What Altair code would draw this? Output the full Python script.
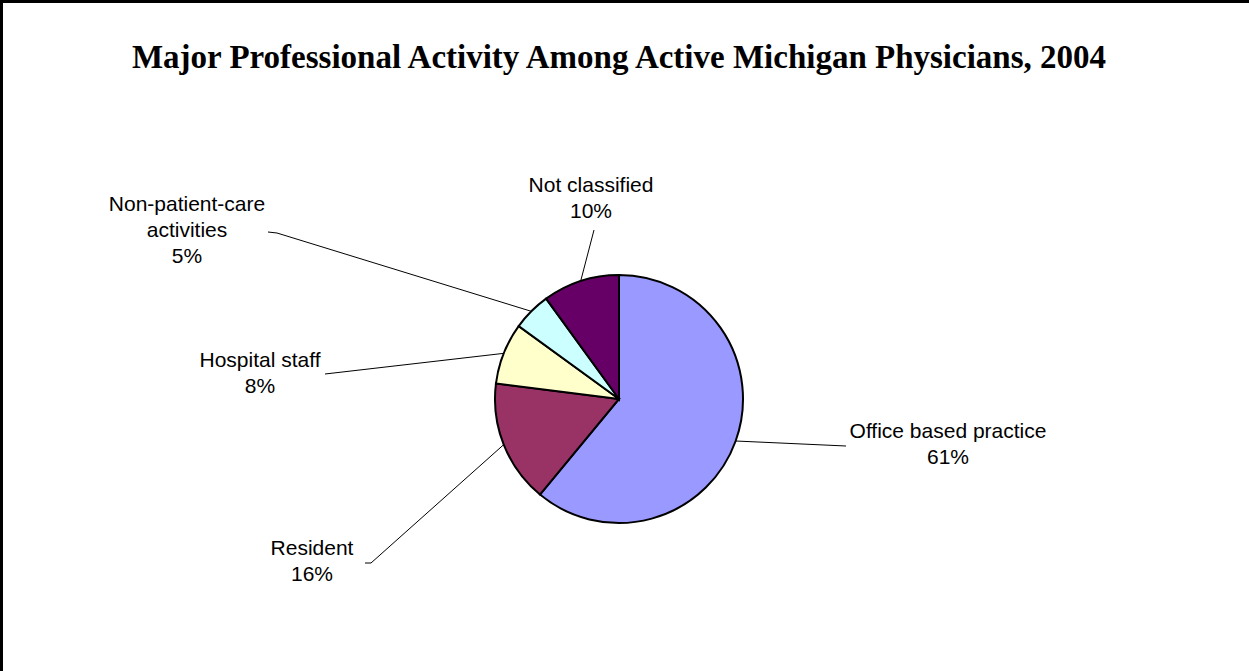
import math
import altair as alt
import pandas as pd

# ---- data ----
categories = ["Office based practice", "Resident", "Hospital staff",
              "Non-patient-care activities", "Not classified"]
label_names = ["Office based practice", "Resident", "Hospital staff",
               "Non-patient-care\nactivities", "Not classified"]
values = [61, 16, 8, 5, 10]
colors = ["#9999FF", "#993366", "#FFFFCC", "#CCFFFF", "#660066"]
title_text = "Major Professional Activity Among Active Michigan Physicians, 2004"

# ---- layout ----
W, H = 1249, 671
CX, CY, R = 619, 399, 124
# position of the first text line of each label
label_pos = [(948, 432), (312, 549), (260, 361), (187, 205), (591, 186)]
leader_label_pts = [
    [(846, 446)],
    [(365, 563), (371, 563)],
    [(325, 374)],
    [(268, 232), (277, 233)],
    [(594, 230)],
]

total = sum(values)
pie_df = pd.DataFrame({
    "category": categories,
    "value": values,
    "idx": list(range(len(values))),
})

label_rows = []
leader_rows = []
cum = 0
for i, (name, v) in enumerate(zip(label_names, values)):
    mid = (cum + v / 2) / total * 2 * math.pi
    cum += v
    ax = CX + R * math.sin(mid)
    ay = CY - R * math.cos(mid)
    lx, ly = label_pos[i]
    label_rows.append({"category": categories[i], "x": lx, "y": ly,
                       "text": f"{name}\n{round(v / total * 100)}%"})
    pts = leader_label_pts[i] + [(ax, ay)]
    for j, (px, py) in enumerate(pts):
        leader_rows.append({"category": categories[i], "x": px, "y": py, "o": j})

label_df = pd.DataFrame(label_rows)
leader_df = pd.DataFrame(leader_rows)
title_df = pd.DataFrame({"text": [title_text], "x": [619], "y": [68]})

xs = alt.Scale(domain=[0, W], nice=False, zero=False)
ys = alt.Scale(domain=[0, H], nice=False, zero=False, reverse=True)

pie = alt.Chart(pie_df).mark_arc(radius=R, stroke="black", strokeWidth=2).encode(
    theta=alt.Theta("value:Q", stack=True),
    color=alt.Color("category:N", scale=alt.Scale(domain=categories, range=colors), legend=None),
    order=alt.Order("idx:Q"),
    x=alt.value(CX),
    y=alt.value(CY),
)

leaders = alt.Chart(leader_df).mark_line(color="black", strokeWidth=1).encode(
    x=alt.X("x:Q", scale=xs, axis=None),
    y=alt.Y("y:Q", scale=ys, axis=None),
    detail="category:N",
    order="o:Q",
)

labels = alt.Chart(label_df).mark_text(
    font="Liberation Sans", fontSize=21, lineBreak="\n", lineHeight=26,
    align="center", baseline="middle", color="black",
).encode(
    x=alt.X("x:Q", scale=xs, axis=None),
    y=alt.Y("y:Q", scale=ys, axis=None),
    text="text:N",
)

title = alt.Chart(title_df).mark_text(
    font="Liberation Serif", fontSize=33, fontWeight="bold",
    align="center", baseline="alphabetic", color="black",
).encode(
    x=alt.X("x:Q", scale=xs, axis=None),
    y=alt.Y("y:Q", scale=ys, axis=None),
    text="text:N",
)

border_top = alt.Chart(pd.DataFrame({"a": [0]})).mark_rule(color="black", strokeWidth=3).encode(
    x=alt.value(0), x2=alt.value(W), y=alt.value(1.5))
border_left = alt.Chart(pd.DataFrame({"a": [0]})).mark_rule(color="black", strokeWidth=3).encode(
    x=alt.value(1.5), y=alt.value(0), y2=alt.value(H))

chart = alt.layer(leaders, pie, labels, title, border_top, border_left).properties(
    width=W, height=H, padding=0, background="white",
    autosize=alt.AutoSizeParams(type="none"),
).configure_view(stroke=None)

chart.save("out.html", embed_options={"renderer": "svg", "actions": False})
